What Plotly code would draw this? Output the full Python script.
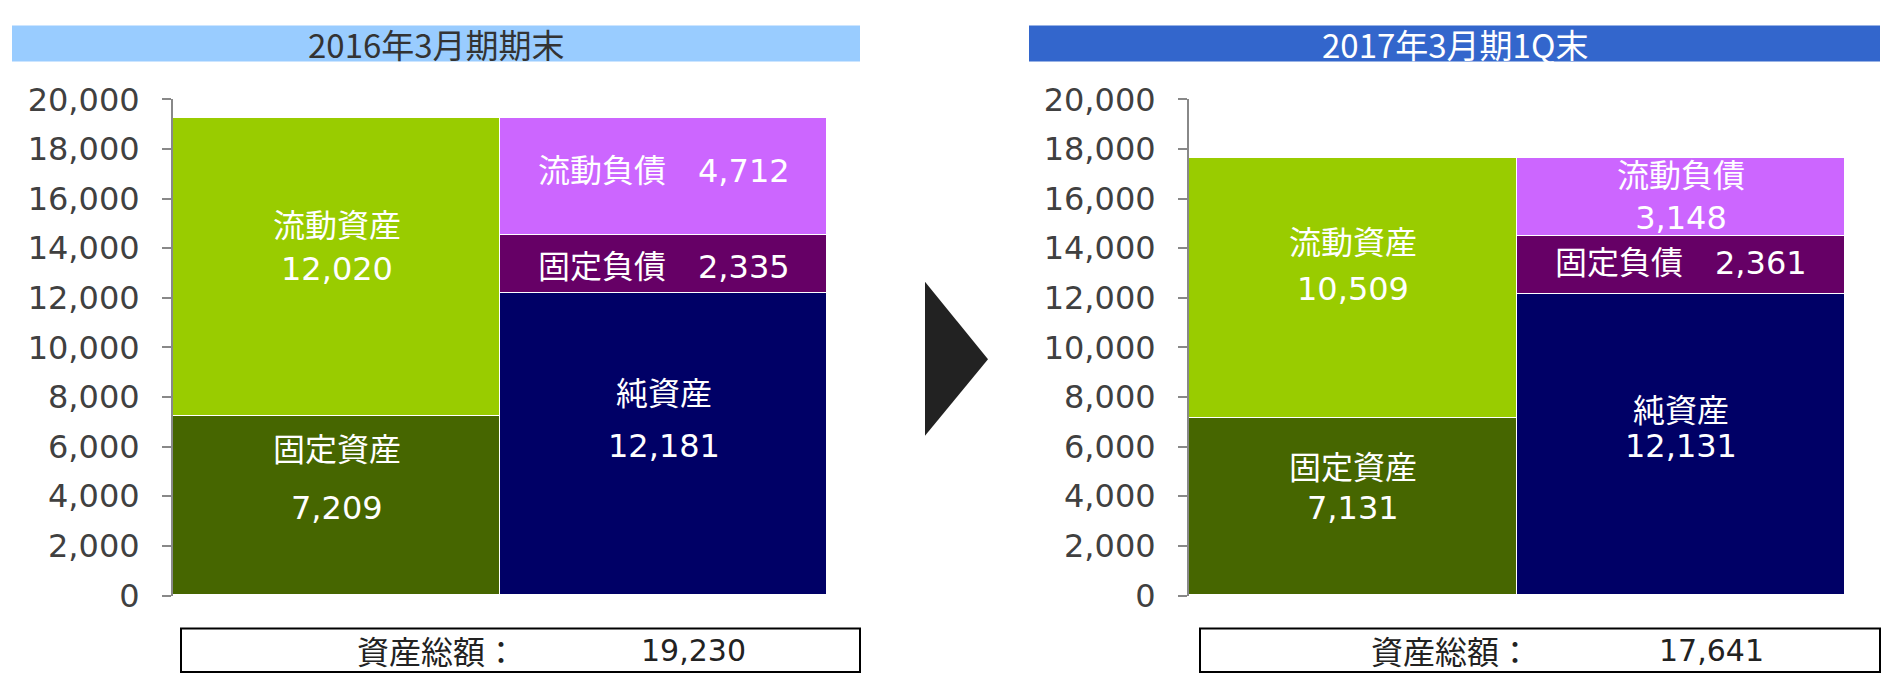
import plotly.graph_objects as go

# ---------------- data ----------------
periods = ["2016年3月期期末", "2017年3月期1Q末"]
asset_names = ["固定資産", "流動資産"]
liab_names = ["純資産", "固定負債", "流動負債"]
assets_2016 = [7209, 12020]
liabs_2016 = [12181, 2335, 4712]
assets_2017 = [7131, 10509]
liabs_2017 = [12131, 2361, 3148]
totals = [19230, 17641]
total_label = "資産総額："
y_ticks = [0, 2000, 4000, 6000, 8000, 10000, 12000, 14000, 16000, 18000, 20000]

# ---------------- style ----------------
asset_colors = ["#466600", "#99CC00"]
liab_colors = ["#000066", "#660066", "#CC66FF"]
W, H = 1893, 692
LABEL_FONT = "DejaVu Sans, Noto Sans CJK JP"
CJK_FONT = "Noto Sans CJK JP, DejaVu Sans"

# label layout per segment: (mode, name_dy, value_dy) offsets in px from the
# segment centre (positive = down).
#   "two": separate name / value texts, "line": "name　value", "br": name<br>value
asset_label_style = [
    [("two", -56, 2), ("two", -42, 1)],
    [("two", -39, 1), ("two", -45, 1)],
]
liab_label_style = [
    [("two", -50, 2), ("line", 0, 3), ("line", 0, -6)],
    [("two", -34, 1), ("line", 0, -2), ("br", 0, 0)],
]


def px(x):
    return x / W


def py(y):
    return 1 - y / H


charts = [(assets_2016, liabs_2016), (assets_2017, liabs_2017)]
axes = [("x", "y"), ("x2", "y2")]

fig = go.Figure()
annotations = []


def label(xa, ya, xpos, y, text, dy):
    annotations.append(dict(
        x=xpos, y=y, xref=xa, yref=ya, text=text,
        showarrow=False, xanchor="center", yanchor="middle", yshift=-dy,
        font=dict(family=LABEL_FONT, size=32, color="white")))


def add_labels(xa, ya, xpos, names, vals, styles):
    base = 0
    for name, v, (mode, ndy, vdy) in zip(names, vals, styles):
        centre = base + v / 2
        if mode == "line":
            label(xa, ya, xpos, centre, f"{name}　{v:,}", vdy)
        elif mode == "br":
            label(xa, ya, xpos, centre, f"{name}<br>{v:,}", vdy)
        else:
            label(xa, ya, xpos, centre, name, ndy)
            label(xa, ya, xpos, centre, f"{v:,}", vdy)
        base += v


for ci, ((assets, liabs), (xa, ya)) in enumerate(zip(charts, axes)):
    for name, v, col in zip(asset_names, assets, asset_colors):
        fig.add_bar(x=[0], y=[v], name=name, xaxis=xa, yaxis=ya, width=1.0,
                    marker=dict(color=col, line=dict(color="white", width=1.5)),
                    showlegend=False, hoverinfo="skip")
    for name, v, col in zip(liab_names, liabs, liab_colors):
        fig.add_bar(x=[1], y=[v], name=name, xaxis=xa, yaxis=ya, width=1.0,
                    marker=dict(color=col, line=dict(color="white", width=1.5)),
                    showlegend=False, hoverinfo="skip")
    add_labels(xa, ya, 0, asset_names, assets, asset_label_style[ci])
    add_labels(xa, ya, 1, liab_names, liabs, liab_label_style[ci])

# period title bars
title_boxes = [(12, 860, "#99CCFF", "#333333"), (1029, 1880, "#3366CC", "#FFFFFF")]
shapes = []
for (x0, x1, fill, fcol), title in zip(title_boxes, periods):
    shapes.append(dict(type="rect", xref="paper", yref="paper", x0=px(x0), x1=px(x1),
                       y0=py(45), y1=py(7), fillcolor=fill, line=dict(width=0), layer="below"))
    annotations.append(dict(x=px((x0 + x1) / 2), y=py(26), xref="paper", yref="paper",
                            text=title, showarrow=False, xanchor="center", yanchor="middle",
                            font=dict(family=CJK_FONT, size=33, color=fcol)))

# arrow between the two charts
shapes.append(dict(type="path", xref="paper", yref="paper",
                   path=f"M {px(925)},{py(278)} L {px(988)},{py(360)} L {px(925)},{py(441)} Z",
                   fillcolor="#222222", line=dict(width=0)))

# total-assets boxes
total_boxes = [(181, 860, 437, 693), (1200, 1880, 1451, 1711)]
for (x0, x1, lx, vx), tot in zip(total_boxes, totals):
    shapes.append(dict(type="rect", xref="paper", yref="paper", x0=px(x0), x1=px(x1),
                       y0=py(691), y1=py(645), line=dict(color="#000000", width=2)))
    annotations.append(dict(x=px(lx), y=py(668), xref="paper", yref="paper", text=total_label,
                            showarrow=False, xanchor="center", yanchor="middle",
                            font=dict(family=CJK_FONT, size=32, color="#222222")))
    annotations.append(dict(x=px(vx), y=py(668), xref="paper", yref="paper", text=f"{tot:,}",
                            showarrow=False, xanchor="center", yanchor="middle",
                            font=dict(family="DejaVu Sans", size=30, color="#222222")))

yaxis_style = dict(range=[0, 20000], tickvals=y_ticks, tickformat=",", showline=True,
                   linecolor="#888888", linewidth=2, ticks="outside", ticklen=9, tickwidth=2,
                   tickcolor="#888888", showgrid=False, zeroline=False,
                   tickfont=dict(family="DejaVu Sans", size=32, color="#404040"),
                   ticklabelstandoff=16, domain=[py(610), py(85)], fixedrange=True)

fig.update_layout(
    width=W, height=H, autosize=False,
    margin=dict(l=0, r=0, t=0, b=0, pad=0),
    paper_bgcolor="white", plot_bgcolor="white",
    barmode="stack", bargap=0,
    xaxis=dict(domain=[px(173), px(827)], range=[-0.5, 1.5], visible=False, fixedrange=True),
    xaxis2=dict(domain=[px(1189), px(1845)], range=[-0.5, 1.5], visible=False, fixedrange=True),
    yaxis=dict(anchor="x", **yaxis_style),
    yaxis2=dict(anchor="x2", **yaxis_style),
    shapes=shapes,
    annotations=annotations,
)

fig.write_html(
    "out.html",
    config={"displayModeBar": False},
    post_script="document.body.style.margin='0';",
)
